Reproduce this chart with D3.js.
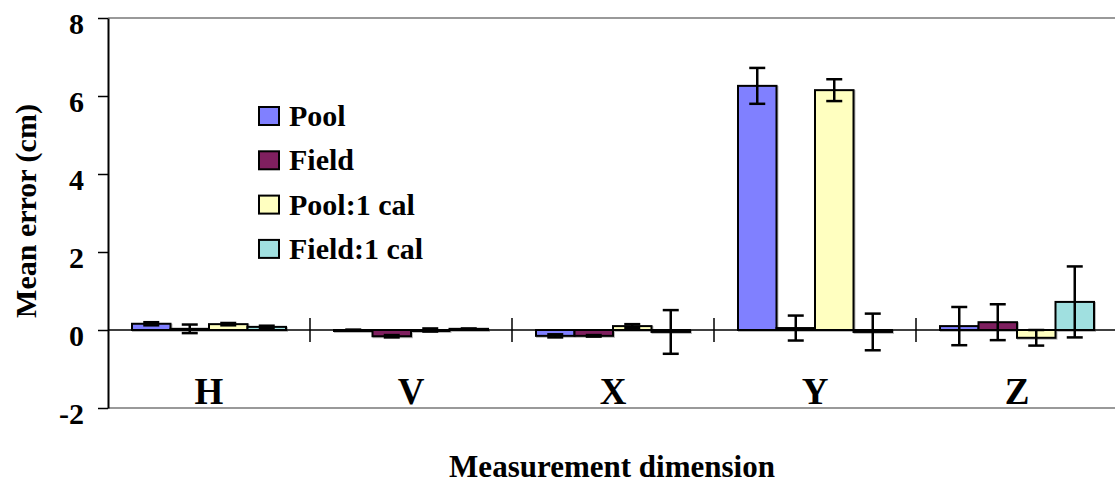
<!DOCTYPE html>
<html>
<head>
<meta charset="utf-8">
<script src="https://cdn.jsdelivr.net/npm/d3@7"></script>
<style>
  body { margin: 0; background: #fff; }
  svg { display: block; }
  text { font-family: "Liberation Serif", "Times New Roman", serif; font-weight: bold; fill: #000; }
</style>
</head>
<body>
<svg width="1115" height="486"></svg>
<script>
const categories = ["H", "V", "X", "Y", "Z"];
const series = ["Pool", "Field", "Pool:1 cal", "Field:1 cal"];
const colors = ["#8080ff", "#7f1f5f", "#ffffc0", "#a0e0e0"];

// mean error per series, in category order
const means = {
    "Pool":        [0.16, 0.00, -0.15, 6.26, 0.10],
    "Field":       [0.03, -0.16, -0.15, 0.05, 0.20],
    "Pool:1 cal":  [0.15, 0.00, 0.10, 6.15, -0.20],
    "Field:1 cal": [0.08, 0.03, -0.05, -0.05, 0.72]
};
// half length of the error bars
const errors = {
    "Pool":        [0.04, 0.01, 0.04, 0.46, 0.49],
    "Field":       [0.11, 0.03, 0.02, 0.32, 0.46],
    "Pool:1 cal":  [0.03, 0.04, 0.05, 0.28, 0.20],
    "Field:1 cal": [0.03, 0.01, 0.56, 0.47, 0.91]
};
const yTicks = [-2, 0, 2, 4, 6, 8];

const svg = d3.select("svg");
const plotLeft = 108, plotRight = 1118, plotTop = 18, plotBottom = 408;

const x0 = d3.scaleBand().domain(categories).range([plotLeft, plotRight]);
const x1 = d3.scaleBand().domain(series).range([24, x0.bandwidth() - 24]);
const y = d3.scaleLinear().domain([-2, 8]).range([plotBottom, plotTop]);
const color = d3.scaleOrdinal().domain(series).range(colors);

// plot frame, top and bottom
svg.append("line").attr("x1", plotLeft).attr("x2", 1115).attr("y1", plotTop).attr("y2", plotTop)
    .attr("stroke", "#999").attr("stroke-width", 2);
svg.append("line").attr("x1", plotLeft).attr("x2", 1115).attr("y1", plotBottom).attr("y2", plotBottom)
    .attr("stroke", "#999").attr("stroke-width", 2);

// rows of data
const rows = [];
categories.forEach((c, i) => {
    series.forEach(s => {
        rows.push({cat: c, series: s, value: means[s][i], err: errors[s][i]});
    });
});

const bars = svg.append("g");
// faint grey shadow like the original export
bars.selectAll("rect.shadow").data(rows).join("rect")
    .attr("class", "shadow")
    .attr("x", d => x0(d.cat) + x1(d.series) + 1)
    .attr("y", d => y(Math.max(0, d.value)) + 1)
    .attr("width", x1.bandwidth())
    .attr("height", d => Math.max(Math.abs(y(d.value) - y(0)), 1))
    .attr("fill", "none")
    .attr("stroke", "#bbb")
    .attr("stroke-width", 2);
bars.selectAll("rect.bar").data(rows).join("rect")
    .attr("class", "bar")
    .attr("x", d => x0(d.cat) + x1(d.series))
    .attr("y", d => y(Math.max(0, d.value)))
    .attr("width", x1.bandwidth())
    .attr("height", d => Math.max(Math.abs(y(d.value) - y(0)), 1))
    .attr("fill", d => color(d.series))
    .attr("stroke", "#000")
    .attr("stroke-width", 2);

// zero line
svg.append("line").attr("x1", plotLeft).attr("x2", 1115).attr("y1", y(0)).attr("y2", y(0))
    .attr("stroke", "#000").attr("stroke-width", 1.5);

// category separators across zero line
svg.append("g").selectAll("line").data(categories.slice(1)).join("line")
    .attr("x1", d => x0(d)).attr("x2", d => x0(d))
    .attr("y1", y(0) - 12).attr("y2", y(0) + 12)
    .attr("stroke", "#000").attr("stroke-width", 1.5);

// error bars
const eb = svg.append("g").attr("stroke", "#000").attr("stroke-width", 2.5);
rows.forEach(d => {
    const cx = x0(d.cat) + x1(d.series) + x1.bandwidth() / 2;
    const y1 = y(d.value + d.err), y2 = y(d.value - d.err);
    eb.append("line").attr("x1", cx).attr("x2", cx).attr("y1", y1).attr("y2", y2);
    eb.append("line").attr("x1", cx - 8).attr("x2", cx + 8).attr("y1", y1).attr("y2", y1);
    eb.append("line").attr("x1", cx - 8).attr("x2", cx + 8).attr("y1", y2).attr("y2", y2);
});

// y axis
const yAxis = svg.append("g").attr("transform", `translate(${plotLeft},0)`)
    .call(d3.axisLeft(y).tickValues(yTicks).tickFormat(d => String(d))
        .tickSize(10).tickSizeOuter(0).tickPadding(14));
yAxis.select(".domain").attr("stroke", "#000").attr("stroke-width", 2);
yAxis.selectAll(".tick line").attr("stroke", "#000").attr("stroke-width", 1.5);
yAxis.selectAll(".tick text")
    .attr("font-size", 30)
    .attr("dy", "0.5em");

// category labels
svg.append("g").selectAll("text").data(categories).join("text")
    .attr("x", d => x0(d) + x0.bandwidth() / 2)
    .attr("y", 404)
    .attr("text-anchor", "middle")
    .attr("font-size", 37)
    .text(d => d);

// axis titles
svg.append("text")
    .attr("transform", "translate(36,211) rotate(-90)")
    .attr("text-anchor", "middle")
    .attr("font-size", 30)
    .text("Mean error (cm)");
svg.append("text")
    .attr("x", 612).attr("y", 477)
    .attr("text-anchor", "middle")
    .attr("font-size", 31)
    .text("Measurement dimension");

// legend
const legend = svg.append("g").attr("transform", "translate(259,116)");
const item = legend.selectAll("g").data(series).join("g")
    .attr("transform", (d, i) => `translate(0,${i * 44.3})`);
item.append("rect")
    .attr("x", 0).attr("y", -9).attr("width", 20).attr("height", 18)
    .attr("fill", d => color(d)).attr("stroke", "#000").attr("stroke-width", 2);
item.append("text")
    .attr("x", 30).attr("y", 10)
    .attr("font-size", 30)
    .text(d => d);
</script>
</body>
</html>
